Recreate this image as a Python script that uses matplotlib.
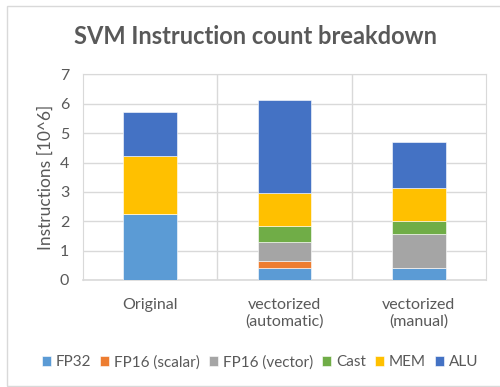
import matplotlib.pyplot as plt
import numpy as np
from matplotlib.patches import Rectangle

# dados (milhoes de instrucoes)
categorias = ["Original", "vectorized\n(automatic)", "vectorized\n(manual)"]
series = ["FP32", "FP16 (scalar)", "FP16 (vector)", "Cast", "MEM", "ALU"]
fp32 = [2.25, 0.42, 0.42]
fp16_scalar = [0.0, 0.24, 0.0]
fp16_vector = [0.0, 0.65, 1.16]
cast = [0.0, 0.54, 0.43]
mem = [1.98, 1.11, 1.12]
alu = [1.49, 3.18, 1.57]
cores = ["#5B9BD5", "#ED7D31", "#A5A5A5", "#70AD47", "#FFC000", "#4472C4"]

valores = [fp32, fp16_scalar, fp16_vector, cast, mem, alu]
texto = "#595959"
plt.rcParams["font.family"] = ["Lato", "DejaVu Sans"]

fig = plt.figure(figsize=(5, 3.87), dpi=100)
# borda do grafico
fig.patches.append(Rectangle((0.014, 0.003), 0.99, 0.982, transform=fig.transFigure,
                             facecolor="none", edgecolor="#D9D9D9", linewidth=1))
ax = fig.add_axes([0.166, 0.2765, 0.806, 0.531])

x = np.arange(len(categorias))
base = np.zeros(len(categorias))
for nome, vals, cor in zip(series, valores, cores):
    ax.bar(x, vals, 0.4, bottom=base, color=cor, label=nome, zorder=3,
           edgecolor="white", linewidth=0.4)
    base += np.array(vals)

ax.set_xlim(-0.5, 2.5)
ax.set_ylim(0, 7)
ax.set_yticks(range(8))
ax.set_xticks(x)
ax.set_xticklabels(categorias, color=texto, fontsize=11.5)
ax.set_xticks([0.5, 1.5], minor=True)
ax.tick_params(axis="both", which="both", length=0, colors=texto, labelsize=11.5)
ax.tick_params(axis="x", pad=13)
ax.tick_params(axis="y", pad=10)
ax.grid(True, which="both", color="#D9D9D9", linewidth=1, zorder=0)
ax.grid(False, axis="x", which="major")
for lado in ["top", "right", "left"]:
    ax.spines[lado].set_color("#D9D9D9")
ax.spines["bottom"].set_color("#D9D9D9")
ax.spines["bottom"].set_linewidth(1.2)
ax.set_ylabel("Instructions [10^6]", color=texto, fontsize=12.5)

fig.suptitle("SVM Instruction count breakdown", x=0.51, y=0.935, fontsize=17,
             fontweight="bold", color=texto)
fig.legend(loc="center", bbox_to_anchor=(0.52, 0.064), ncol=6, frameon=False,
           fontsize=11, handlelength=0.6, handleheight=0.6, handletextpad=0.3,
           columnspacing=0.6, labelcolor=texto)

plt.savefig("out.png", dpi=100)
plt.close()
